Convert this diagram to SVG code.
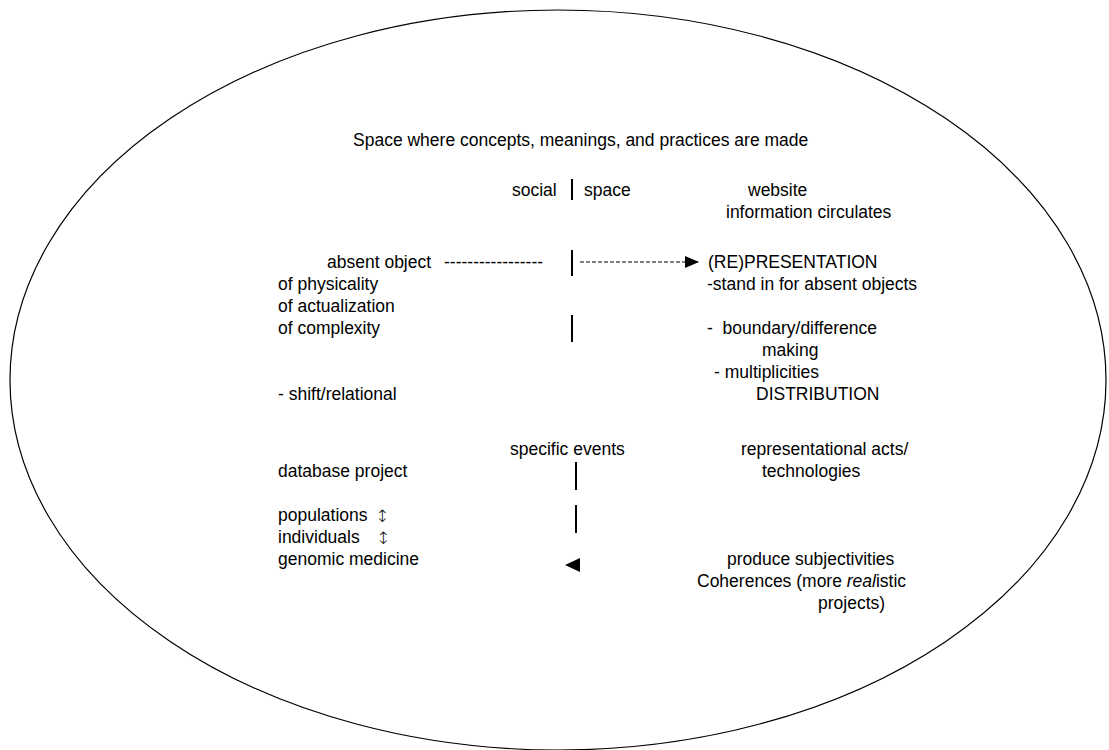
<svg xmlns="http://www.w3.org/2000/svg" width="1109" height="750" viewBox="0 0 1109 750">
<style>
text{font-family:"Liberation Sans",Arial,sans-serif;font-size:17.5px;fill:#000}
.ud{font-family:"DejaVu Sans",sans-serif;font-size:17px;font-weight:300}
.bar{stroke:#000;stroke-width:2}
</style>
<defs>
<marker id="ah" markerWidth="14" markerHeight="12" refX="13" refY="6" orient="auto" markerUnits="userSpaceOnUse"><path d="M0,0 L14,6 L0,12 Z" fill="#000"/></marker>
</defs>
<rect width="1109" height="750" fill="#fff"/>
<g id="boundary"><ellipse cx="558" cy="380" rx="548" ry="370" fill="none" stroke="#000" stroke-width="1.2"/></g>
<g id="title"><text x="353" y="146">Space where concepts, meanings, and practices are made</text></g>
<g id="social-space"><text x="512" y="196">social</text><text x="584" y="196">space</text></g>
<g id="website"><text x="748" y="196">website</text><text x="726" y="218">information circulates</text></g>
<g id="absent-object"><text x="327" y="268">absent object</text><text x="444" y="268">-----------------</text>
<text x="278" y="290">of physicality</text><text x="278" y="312">of actualization</text><text x="278" y="334">of complexity</text><text x="278" y="400">- shift/relational</text></g>
<g id="representation"><text x="708" y="268">(RE)PRESENTATION</text><text x="707" y="290">-stand in for absent objects</text>
<text x="707" y="334">-&#160; boundary/difference</text><text x="762" y="356">making</text><text x="714" y="378">- multiplicities</text><text x="756" y="400">DISTRIBUTION</text></g>
<g id="specific-events"><text x="510" y="455">specific events</text></g>
<g id="representational-acts"><text x="741" y="455">representational acts/</text><text x="762" y="477">technologies</text></g>
<g id="database"><text x="278" y="477">database project</text><text x="278" y="521">populations</text><text class="ud" x="375" y="522">↕</text><text x="278" y="543">individuals</text><text class="ud" x="376" y="544">↕</text><text x="278" y="565">genomic medicine</text></g>
<g id="subjectivities"><text x="727" y="565">produce subjectivities</text><text x="697" y="587">Coherences (more <tspan font-style="italic">real</tspan>istic</text><text x="818" y="609">projects)</text></g>
<g id="connectors">
<line class="bar" x1="572" y1="179" x2="572" y2="200"/>
<line class="bar" x1="572" y1="250" x2="572" y2="276"/>
<line x1="580" y1="262" x2="698" y2="262" stroke="#000" stroke-width="1.2" stroke-dasharray="4,2" marker-end="url(#ah)"/>
<line class="bar" x1="572" y1="315" x2="572" y2="342"/>
<line class="bar" x1="576" y1="462" x2="576" y2="490"/>
<line class="bar" x1="576" y1="505" x2="576" y2="533"/>
<path d="M565,565 L580,558 L580,572 Z" fill="#000"/>
</g>
</svg>
